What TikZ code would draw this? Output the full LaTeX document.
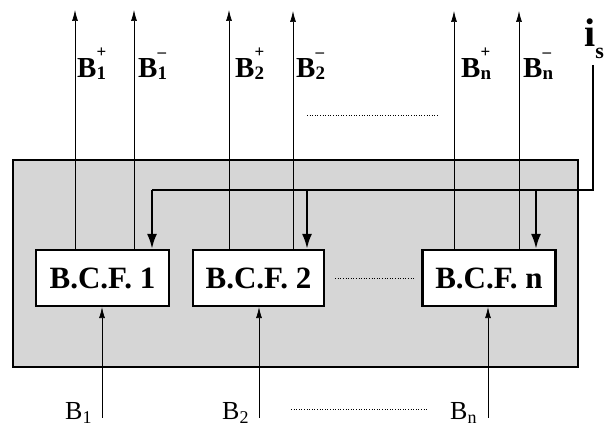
\documentclass[tikz,border=0pt]{standalone}
\usepackage{fontspec}
\setmainfont{Liberation Serif}
\usetikzlibrary{arrows.meta}
% output label B with sub- and superscript
\newcommand\outlab[2]{{\fontsize{29}{29}\selectfont\bfseries B}\rlap{\raisebox{20pt}{\fontsize{17}{17}\selectfont\bfseries #2}}\raisebox{-2pt}{\fontsize{19}{19}\selectfont\bfseries #1}}
% input label B with subscript
\newcommand\inlab[1]{{\fontsize{26}{26}\selectfont B}\raisebox{-4pt}{\fontsize{18}{18}\selectfont #1}}
\begin{document}
\begin{tikzpicture}[x=1pt,y=-1pt,
  panel/.style={fill=black!16, draw=black, line width=1.8pt},
  bcf/.style={draw, line width=2.2pt, fill=white, minimum width=133pt, minimum height=56pt,
    inner sep=0pt, font=\fontsize{31}{31}\selectfont\bfseries},
  outarr/.style={-{Latex[length=11pt,width=6pt]}, line width=0.7pt},
  inarr/.style={-{Latex[length=11pt,width=6pt]}, line width=0.7pt},
  feed/.style={line width=2.4pt},
  feedarr/.style={feed, -{Latex[length=15pt,width=10pt]}},
  dots/.style={dotted, line width=0.6pt},
  lab/.style={anchor=base west, inner sep=0pt}
]
\useasboundingbox (0,0) rectangle (608,427);

% shaded panel
\draw[panel] (13,160) rectangle (578,367);

% filter blocks
\node[bcf] (b1) at (102.5,278) {B.C.F. 1};
\node[bcf, minimum width=131pt] (b2) at (258.5,278) {B.C.F. 2};
\node[bcf] (bn) at (489,278) {B.C.F. n};

% output arrow ends
\coordinate (o1p) at (75,10);
\coordinate (o1m) at (134,10);
\coordinate (o2p) at (229,10);
\coordinate (o2m) at (293,11);
\coordinate (onp) at (454,11);
\coordinate (onm) at (519,11);

\draw[outarr] (b1.north -| o1p) -- (o1p);
\draw[outarr] (b1.north -| o1m) -- (o1m);
\draw[outarr] (b2.north -| o2p) -- (o2p);
\draw[outarr] (b2.north -| o2m) -- (o2m);
\draw[outarr] (bn.north -| onp) -- (onp);
\draw[outarr] (bn.north -| onm) -- (onm);

% output labels
\node[lab] (l1p) at (77,78) {\outlab{1}{+}};
\node[lab] (l1m) at (138,78) {\outlab{1}{–}};
\node[lab] (l2p) at (235,78) {\outlab{2}{+}};
\node[lab] (l2m) at (296,78) {\outlab{2}{–}};
\node[lab] (lnp) at (461,78) {\outlab{n}{+}};
\node[lab] (lnm) at (523,78) {\outlab{n}{–}};

% common signal i_s
\node[lab] (is) at (584,47) {\fontsize{40}{40}\selectfont\bfseries i\raisebox{-12pt}{\fontsize{22}{22}\selectfont s}};
\coordinate (isend) at (593,65);
\coordinate (f1) at (152,190);
\coordinate (f2) at (307,190);
\coordinate (fn) at (536,190);
\draw[feed] (isend) |- (f1);
\draw[feedarr] (f1) -- (b1.north -| f1);
\draw[feedarr] (f2) -- (b2.north -| f2);
\draw[feedarr] (fn) -- (bn.north -| fn);

% inputs
\coordinate (u1) at (102,418);
\coordinate (u2) at (259,418);
\coordinate (un) at (488,418);
\draw[inarr] (u1) -- (b1.south -| u1);
\draw[inarr] (u2) -- (b2.south -| u2);
\draw[inarr] (un) -- (bn.south -| un);

\node[lab] (i1) at (65,420) {\inlab{1}};
\node[lab] (i2) at (222,420) {\inlab{2}};
\node[lab] (in) at (450,420) {\inlab{n}};

% ellipsis dots
\coordinate (d1a) at (307,115);
\coordinate (d1b) at (438,115);
\draw[dots] (d1a) -- (d1b);
\draw[dots] ([xshift=10pt]b2.east) -- ([xshift=-7pt]bn.west);
\coordinate (d3a) at (291,409);
\coordinate (d3b) at (427,409);
\draw[dots] (d3a) -- (d3b);
\end{tikzpicture}
\end{document}
